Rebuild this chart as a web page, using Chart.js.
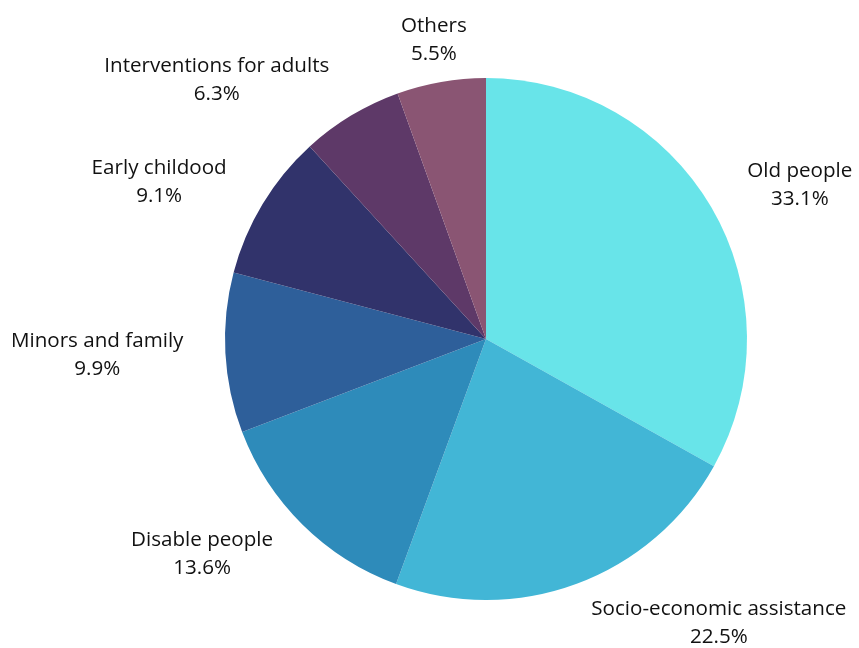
<!DOCTYPE html>
<html>
<head>
<meta charset="utf-8">
<script src="https://cdn.jsdelivr.net/npm/chart.js@4/dist/chart.umd.min.js"></script>
<style>
  html, body { margin: 0; padding: 0; background: #fff; }
  #wrap { width: 859px; height: 648px; position: relative; }
</style>
</head>
<body>
<div id="wrap"><canvas id="pie"></canvas></div>
<script>
const categories = ['Old people', 'Socio-economic assistance', 'Disable people', 'Minors and family', 'Early childood', 'Interventions for adults', 'Others'];
const shares = [33.1, 22.5, 13.6, 9.9, 9.1, 6.3, 5.5];
const colors = ['#68e4e9', '#42b6d6', '#2e8bba', '#2e5f9a', '#31336b', '#5e3968', '#8a5573'];

// draws "name / pct" outside each slice; the block is anchored by side, lines centred in it
const outsideLabels = {
    id: 'outsideLabels',
    afterDatasetsDraw(chart) {
        const ctx = chart.ctx;
        const meta = chart.getDatasetMeta(0);
        ctx.save();
        ctx.font = '20.6px "Open Sans", "Noto Sans", sans-serif';
        ctx.fillStyle = '#111';
        ctx.textBaseline = 'middle';
        ctx.textAlign = 'center';
        meta.data.forEach((arc, i) => {
            const mid = (arc.startAngle + arc.endAngle) / 2;
            const r = arc.outerRadius + 42;
            const x = arc.x + Math.cos(mid) * r;
            const y = arc.y + Math.sin(mid) * r;
            const pct = shares[i].toFixed(1) + '%';
            const w = Math.max(ctx.measureText(categories[i]).width, ctx.measureText(pct).width);
            const c = Math.cos(mid);
            let cx = x;
            if (c > 0.2) cx = x + w / 2;
            else if (c < -0.2) cx = x - w / 2;
            ctx.fillText(categories[i], cx, y - 14);
            ctx.fillText(pct, cx, y + 14);
        });
        ctx.restore();
    }
};

new Chart(document.getElementById('pie'), {
    type: 'pie',
    data: {
        labels: categories,
        datasets: [{
            data: shares,
            backgroundColor: colors,
            borderWidth: 0
        }]
    },
    options: {
        responsive: true,
        maintainAspectRatio: false,
        animation: false,
        layout: { padding: { left: 225, right: 112, top: 78, bottom: 48 } },
        plugins: { legend: { display: false }, tooltip: { enabled: false } }
    },
    plugins: [outsideLabels]
});
</script>
</body>
</html>
